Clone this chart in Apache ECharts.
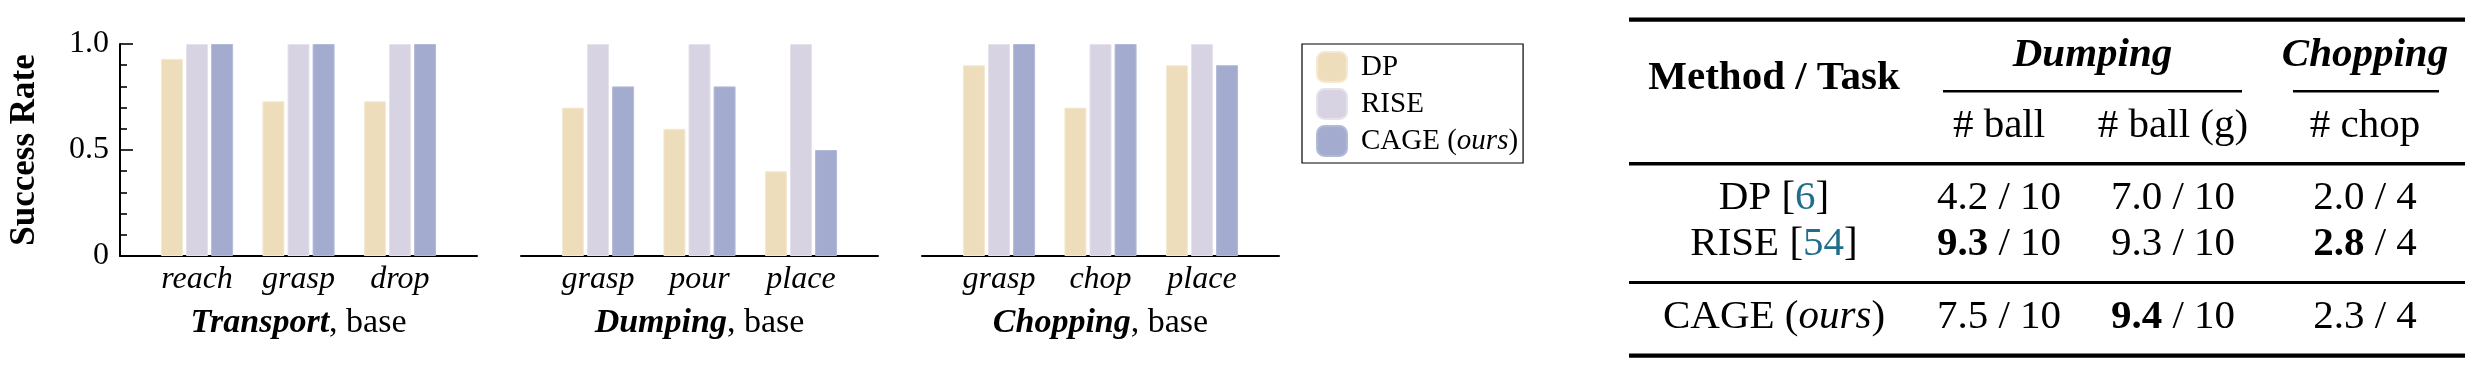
<!DOCTYPE html>
<html>
<head>
<meta charset="utf-8">
<script src="https://cdn.jsdelivr.net/npm/echarts@6/dist/echarts.min.js"></script>
<style>
html,body{margin:0;padding:0;background:#fff;}
#chart{width:2476px;height:374px;}
</style>
</head>
<body>
<div id="chart"></div>
<script>
// ---------------- data ----------------
const methods = ['DP', 'RISE', 'CAGE (ours)'];
const panelTitles = ['Transport', 'Dumping', 'Chopping'];
const transportSteps = ['reach', 'grasp', 'drop'];
const dumpingSteps = ['grasp', 'pour', 'place'];
const choppingSteps = ['grasp', 'chop', 'place'];
const transportDP = [0.93, 0.73, 0.73];
const transportRISE = [1.0, 1.0, 1.0];
const transportCAGE = [1.0, 1.0, 1.0];
const dumpingDP = [0.70, 0.60, 0.40];
const dumpingRISE = [1.0, 1.0, 1.0];
const dumpingCAGE = [0.80, 0.80, 0.50];
const choppingDP = [0.90, 0.70, 0.90];
const choppingRISE = [1.0, 1.0, 1.0];
const choppingCAGE = [1.0, 1.0, 0.90];
const yTickValues = [0, 0.5, 1.0];
const yTickLabels = ['0', '0.5', '1.0'];

// table data
const tableMethodNames = ['DP', 'RISE', 'CAGE'];
const tableRefs = ['6', '54', ''];
const dumpBall = ['4.2', '9.3', '7.5'];
const dumpBallG = ['7.0', '9.3', '9.4'];
const chopCount = ['2.0', '2.8', '2.3'];
const ballTotal = '10';
const chopTotal = '4';
const subHeaders = ['# ball', '# ball (g)', '# chop'];

// ---------------- styling ----------------
const FONT = 'Liberation Serif';
const colors = ['#EDDDBB', '#D8D3E3', '#A3ACCF'];
const borders = ['#F4EAD3', '#E6E2EC', '#B3BAD8'];
const panelSteps = [transportSteps, dumpingSteps, choppingSteps];
const panelData = [
  [transportDP, transportRISE, transportCAGE],
  [dumpingDP, dumpingRISE, dumpingCAGE],
  [choppingDP, choppingRISE, choppingCAGE]
];
const gridLefts = [120, 521, 922];

const grids = [], xAxes = [], yAxes = [], series = [];
panelTitles.forEach((title, p) => {
  grids.push({left: gridLefts[p], top: 44, width: 357, height: 212, containLabel: false});
  const steps = panelSteps[p];
  xAxes.push({
    gridIndex: p, type: 'value', min: -0.759, max: 2.759,
    axisLine: {show: true, onZero: false, lineStyle: {color: '#000', width: 2}},
    axisTick: {show: false},
    splitLine: {show: false},
    axisLabel: {
      customValues: [0, 1, 2], margin: 8,
      formatter: v => steps[Math.round(v)],
      fontFamily: FONT, fontStyle: 'italic', fontSize: 32, color: '#000'
    },
    name: '{bi|' + title + '}{r|, base}',
    nameLocation: 'middle', nameGap: 50,
    nameTextStyle: {
      rich: {
        bi: {fontFamily: FONT, fontStyle: 'italic', fontWeight: 'bold', fontSize: 34, color: '#000'},
        r: {fontFamily: FONT, fontSize: 34, color: '#000'}
      }
    }
  });
  yAxes.push({
    gridIndex: p, type: 'value', min: 0, max: 1, interval: 0.5,
    show: p === 0, position: 'left',
    axisLine: {show: true, onZero: false, lineStyle: {color: '#000', width: 2}},
    axisTick: {show: true, inside: true, length: 13, lineStyle: {color: '#000', width: 1.6}},
    minorTick: {show: true, splitNumber: 5, length: 7, lineStyle: {color: '#000', width: 1.6}},
    splitLine: {show: false},
    axisLabel: {
      margin: 11, fontFamily: FONT, fontSize: 32, color: '#000',
      formatter: v => yTickLabels[yTickValues.indexOf(v)]
    },
    name: p === 0 ? 'Success Rate' : '',
    nameLocation: 'middle', nameGap: 78, nameRotate: 90,
    nameTextStyle: {fontFamily: FONT, fontWeight: 'bold', fontSize: 35, color: '#000'}
  });
  methods.forEach((m, k) => {
    series.push({
      type: 'bar', name: m, xAxisIndex: p, yAxisIndex: p,
      barWidth: 22, barGap: '14%',
      itemStyle: {color: colors[k], borderColor: borders[k], borderWidth: 1},
      data: panelData[p][k].map((v, i) => [i, v])
    });
  });
});

// ---------------- table via graphic ----------------
const TF = 41;
const colX = [1774, 1999, 2173, 2365];
const rowY = [198.5, 244, 317.5];
const g = [];
function rule(x1, x2, y, h) {
  g.push({type: 'rect', shape: {x: x1, y: y, width: x2 - x1, height: h}, style: {fill: '#000'}});
}
function txt(x, y, text, rich, extra) {
  g.push({type: 'text', x: x, y: y, style: Object.assign({
    text: text, align: 'center', verticalAlign: 'middle',
    fontFamily: FONT, fontSize: TF, fill: '#000', rich: rich || {}
  }, extra || {})});
}
const R = {
  r: {fontFamily: FONT, fontSize: TF, fill: '#000', color: '#000'},
  b: {fontFamily: FONT, fontSize: TF, fontWeight: 'bold', fill: '#000', color: '#000'},
  i: {fontFamily: FONT, fontSize: TF, fontStyle: 'italic', fill: '#000', color: '#000'},
  ref: {fontFamily: FONT, fontSize: TF, fill: '#1F6E8C', color: '#1F6E8C'}
};
rule(1629, 2465, 17.5, 4.2);
rule(1629, 2465, 162, 3.4);
rule(1629, 2465, 281, 3);
rule(1629, 2465, 353.5, 4.2);
rule(1943, 2242, 90, 2.6);
rule(2293, 2439, 90, 2.6);
txt(colX[0], 78.5, 'Method / Task', null, {fontWeight: 'bold'});
txt(2092.5, 55, 'Dumping', null, {fontWeight: 'bold', fontStyle: 'italic'});
txt(2365, 55, 'Chopping', null, {fontWeight: 'bold', fontStyle: 'italic'});
subHeaders.forEach((s, j) => txt(colX[j + 1], 126.5, s));

const cols = [dumpBall, dumpBallG, chopCount];
const totals = [ballTotal, ballTotal, chopTotal];
tableMethodNames.forEach((m, i) => {
  let label;
  if (tableRefs[i]) label = '{r|' + m + ' [}{ref|' + tableRefs[i] + '}{r|]}';
  else label = '{r|' + m + ' (}{i|ours}{r|)}';
  txt(colX[0], rowY[i], label, R);
  cols.forEach((col, j) => {
    const maxV = Math.max.apply(null, col.map(Number));
    const isBest = Number(col[i]) === maxV;
    const val = isBest ? '{b|' + col[i] + '}' : '{r|' + col[i] + '}';
    txt(colX[j + 1], rowY[i], val + '{r| / ' + totals[j] + '}', R);
  });
});

const chart = echarts.init(document.getElementById('chart'), null, {renderer: 'canvas'});
chart.setOption({
  animation: false,
  backgroundColor: '#fff',
  grid: grids, xAxis: xAxes, yAxis: yAxes, series: series,
  legend: {
    data: methods, left: 1302, top: 44, orient: 'vertical',
    itemWidth: 30, itemHeight: 30, itemGap: 5, icon: 'roundRect',
    padding: [7, 5, 6, 14], borderColor: '#000', borderWidth: 1.2,
    textStyle: {
      fontFamily: FONT, fontSize: 29, color: '#000', padding: [0, 0, 0, 9],
      rich: {
        r: {fontFamily: FONT, fontSize: 29, color: '#000'},
        i: {fontFamily: FONT, fontSize: 29, fontStyle: 'italic', color: '#000'}
      }
    },
    formatter: name => name === 'CAGE (ours)' ? '{r|CAGE (}{i|ours}{r|)}' : '{r|' + name + '}'
  },
  graphic: g
});
</script>
</body>
</html>
